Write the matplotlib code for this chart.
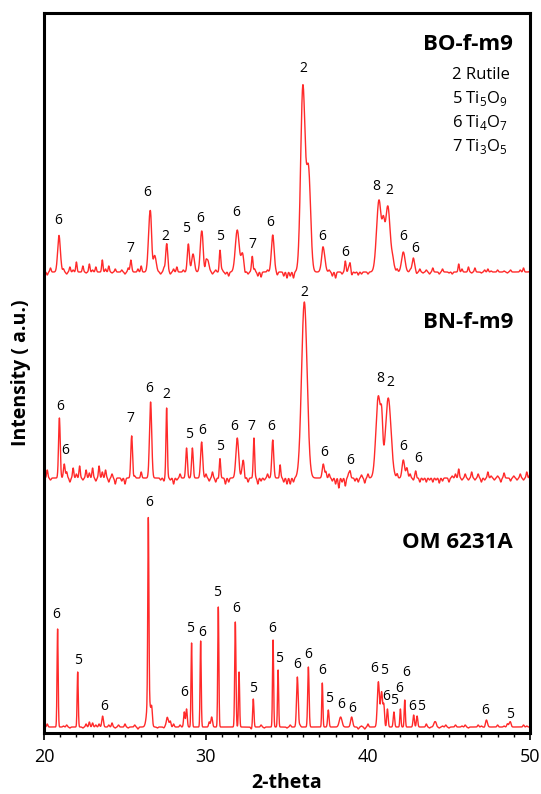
import numpy as np
import matplotlib.pyplot as plt
from matplotlib.ticker import MultipleLocator

plt.rcParams['font.family'] = ['Open Sans', 'DejaVu Sans']
plt.rcParams['mathtext.fontset'] = 'custom'
plt.rcParams['mathtext.rm'] = 'Open Sans'

# peak lists: position (2-theta), height (a.u.), width (fwhm)
bo_pos = [20.93, 25.37, 26.54, 26.85, 27.57, 28.91, 29.2, 29.73, 30.1, 30.86, 31.93, 32.25,
          32.86, 34.12, 35.98, 36.33, 37.24, 38.6, 38.89, 40.68, 40.95, 41.22, 41.55, 42.18, 42.8]
bo_h = [37, 14, 58, 15, 26, 28, 18, 40, 12, 23, 42, 18,
        15, 37, 185, 100, 23, 8, 9, 72, 30, 66, 10, 20, 12]
bo_w = [0.2, 0.12, 0.22, 0.2, 0.15, 0.15, 0.2, 0.2, 0.2, 0.12, 0.28, 0.2,
        0.1, 0.2, 0.32, 0.3, 0.24, 0.1, 0.1, 0.35, 0.18, 0.35, 0.2, 0.25, 0.2]

bn_pos = [20.95, 21.25, 25.41, 26.58, 27.57, 28.8, 29.16, 29.73, 30.86, 31.93, 32.3, 32.96,
          34.12, 34.57, 36.07, 37.24, 38.89, 40.64, 40.85, 41.25, 42.18, 42.4, 42.96]
bn_h = [60, 14, 46, 76, 70, 30, 30, 36, 20, 40, 18, 40,
        38, 10, 176, 14, 7, 82, 35, 80, 18, 8, 9]
bn_w = [0.12, 0.12, 0.12, 0.16, 0.1, 0.12, 0.12, 0.15, 0.1, 0.2, 0.18, 0.1,
        0.14, 0.08, 0.4, 0.15, 0.1, 0.35, 0.15, 0.4, 0.18, 0.15, 0.12]

om_pos = [20.84, 22.08, 23.62, 26.44, 26.46, 26.65, 27.63, 28.66, 28.8, 29.11, 29.67, 30.35,
          30.76, 31.81, 32.04, 32.92, 34.14, 34.45, 35.64, 36.32, 37.18, 37.55, 38.31, 38.99,
          40.64, 40.84, 40.98, 41.2, 41.6, 42.0, 42.27, 42.82, 43.03, 44.12, 47.31, 48.75]
om_h = [98, 55, 10, 180, 30, 15, 7, 15, 18, 84, 86, 10,
        120, 105, 55, 28, 87, 57, 50, 60, 44, 17, 10, 10,
        45, 35, 20, 18, 15, 18, 27, 12, 11, 5, 7, 4]
om_w = [0.08, 0.08, 0.12, 0.08, 0.25, 0.1, 0.2, 0.1, 0.1, 0.08, 0.08, 0.12,
        0.08, 0.09, 0.08, 0.09, 0.08, 0.08, 0.12, 0.1, 0.08, 0.1, 0.2, 0.15,
        0.15, 0.15, 0.1, 0.1, 0.1, 0.08, 0.08, 0.1, 0.1, 0.15, 0.15, 0.15]

# background wiggles every 0.2 deg from 20 to 50
noise_x = np.round(np.arange(20, 50.01, 0.2), 2)
bo_noise = [2, -3, 4, 0, 0, -2, 3, -2, 5, 2,
            10, 0, 6, -1, 8, 2, 5, 0, 12, 3,
            6, -1, 3, 0, 2, -2, 4, -3, 0, 3,
            6, 0, 0, 8, 2, 0, -2, 4, 3, -2,
            3, 5, 0, 2, 0, 0, 0, 0, 0, 4,
            6, 0, -2, 2, -4, 2, -2, -4, 0, 0,
            0, 0, -3, -2, 2, 3, -4, -5, 0, 2,
            0, 0, -3, 0, -4, -6, -4, -6, 0, 0,
            0, 0, 0, 0, 0, 0, 3, 0, 2, -4,
            -6, 0, -2, 3, 4, -3, -1, -3, -2, 0,
            -2, 0, 0, 0, 0, 0, 0, 0, -2, 3,
            0, 0, 0, 2, 2, -2, 3, -1, 2, -2,
            4, 0, -2, 3, 0, -1, -2, 0, 8, 3,
            0, 5, -1, 4, 0, -1, 2, 3, 1, 0,
            2, 0, 1, -1, 2, 0, 0, 2, 4, 0,
            1]
bn_noise = [4, 8, -2, 0, 0, 0, 0, 6, -4, 10,
            4, 12, -2, 8, 5, 10, -3, 12, 6, 8,
            -4, 4, -6, 0, -3, -6, 0, -4, 2, 0,
            6, 0, 0, 0, 0, 0, -2, -3, 0, -2,
            -6, -2, 4, 0, 0, 0, 0, 0, 0, 0,
            4, -3, 6, -4, -2, 0, -6, -4, 0, 0,
            0, 0, -6, -4, 0, 0, -6, -3, -2, 4,
            0, 0, 0, 4, -4, -6, -6, -4, 0, 0,
            0, 0, 0, 0, 0, 0, 0, 6, 4, -3,
            -6, -10, -4, -8, 4, 0, -3, -4, 3, -5,
            4, 0, 0, 0, 0, 0, 0, 0, 0, 4,
            0, 0, 2, 4, -2, -4, -4, -2, -4, -2,
            -4, -2, -5, -3, 0, -4, 2, 4, 9, -2,
            4, -2, 6, -2, 4, -4, -2, 6, 2, -2,
            2, -4, 5, 0, -3, 2, -2, 4, -2, 6,
            4]
om_noise = [2, 3, 0, 0, 0, 0, 1, 2, -1, 0,
            0, 0, -1, 3, 5, 4, 2, 3, 1, 0,
            2, 4, -1, 2, 0, 3, -1, 0, 2, -2,
            0, 0, 0, 0, 0, -1, 0, -1, 3, 5,
            3, 0, 2, 0, 0, 0, 0, 0, 0, 0,
            0, 5, 0, 0, 0, 0, 0, 0, 0, 0,
            0, 0, 0, 0, -2, 0, 0, 2, -1, 0,
            0, 0, 0, 0, 0, -1, 2, 0, 0, 2,
            0, 0, 0, 0, 0, 0, 0, 0, 0, 0,
            0, 0, 0, 0, 0, 0, 0, -2, 1, -2,
            3, 0, 0, 0, 0, 0, 0, 0, 0, 0,
            0, 0, 0, 0, 0, 0, 0, 0, 3, -1,
            0, 2, -1, 1, 2, -1, 0, 2, 0, 1,
            2, -1, 0, 0, 2, 1, -1, 0, 0, 0,
            2, 0, 1, 3, 2, 0, 0, 0, 2, 1,
            0]

# phase labels: text, 2-theta, height above the trace baseline
bo_lab = ['6', '7', '6', '2', '5', '6', '5', '6', '7', '6', '2', '6', '6', '8', '2', '6', '6']
bo_lab_x = [20.9, 25.35, 26.4, 27.5, 28.75, 29.65, 30.86, 31.87, 32.86, 33.97, 36.0, 37.2,
            38.6, 40.53, 41.3, 42.16, 42.92]
bo_lab_y = [52, 24, 79, 36, 44, 53, 36, 59, 28, 50, 203, 36, 19, 86, 81, 36, 24]

bn_lab = ['6', '6', '7', '6', '2', '5', '6', '5', '6', '7', '6', '2', '6', '6', '8', '2', '6', '6']
bn_lab_x = [21.0, 21.3, 25.35, 26.5, 27.57, 28.95, 29.75, 30.86, 31.77, 32.78, 34.03, 36.07,
            37.3, 38.93, 40.74, 41.36, 42.18, 43.1]
bn_lab_y = [72, 27, 59, 90, 83, 43, 48, 31, 52, 52, 52, 186, 26, 18, 100, 96, 31, 20]

om_lab = ['6', '5', '6', '6', '6', '5', '6', '5', '6', '5', '6', '5', '6', '6', '6', '5',
          '6', '6', '6', '5', '6', '5', '6', '6', '6', '5', '6', '5']
om_lab_x = [20.78, 22.08, 23.72, 26.5, 28.64, 29.0, 29.75, 30.7, 31.87, 32.92, 34.11, 34.5,
            35.62, 36.28, 37.18, 37.61, 38.33, 39.03, 40.39, 40.99, 41.15, 41.63, 41.94, 42.33,
            42.7, 43.25, 47.26, 48.76]
om_lab_y = [112, 66, 21, 225, 34, 98, 95, 134, 119, 39, 99, 69, 63, 73, 56, 28, 23, 19,
            58, 56, 30, 26, 39, 54, 21, 21, 16, 13]

names = ['BO-f-m9', 'BN-f-m9', 'OM 6231A']
legend_lines = ['2 Rutile', r'5 Ti$_5$O$_9$', r'6 Ti$_4$O$_7$', r'7 Ti$_3$O$_5$']

x = np.linspace(20, 50, 3001)


def pattern(pos, h, w, noise):
    y = np.zeros_like(x)
    for p, a, f in zip(pos, h, w):
        s = f / 2.355
        y += a * np.exp(-(x - p) ** 2 / (2 * s * s))
    for p, a in zip(noise_x, noise):
        y += a * np.exp(-(x - p) ** 2 / (2 * 0.04 ** 2))
    return y


fig = plt.figure(figsize=(5.41, 7.94), dpi=100)
ax = fig.add_axes([44 / 541, 1 - 733 / 794, 486 / 541, 720 / 794])

offsets = [461, 255, 6]
traces = [(bo_pos, bo_h, bo_w, bo_noise, bo_lab, bo_lab_x, bo_lab_y),
          (bn_pos, bn_h, bn_w, bn_noise, bn_lab, bn_lab_x, bn_lab_y),
          (om_pos, om_h, om_w, om_noise, om_lab, om_lab_x, om_lab_y)]
name_y = [688, 411, 190]

for off, tr, nm, ny in zip(offsets, traces, names, name_y):
    pos, h, w, noise, lab, lx, ly = tr
    ax.plot(x, pattern(pos, h, w, noise) + off, color='#ff2a2a', lw=1.0)
    for t, xx, yy in zip(lab, lx, ly):
        ax.text(xx, off + yy, t, fontsize=10, ha='center', va='center')
    ax.text(48.95, ny, nm, fontsize=16, fontweight='bold', ha='right', va='center')

for i, s in enumerate(legend_lines):
    ax.text(45.2, 658 - 24 * i, s, fontsize=12, ha='left', va='center')

ax.set_xlim(20, 50)
ax.set_ylim(0, 720)
ax.set_yticks([])
ax.xaxis.set_major_locator(MultipleLocator(10))
ax.xaxis.set_minor_locator(MultipleLocator(1))
ax.tick_params(axis='x', which='major', direction='out', length=5, width=1.2, labelsize=13, pad=6)
ax.tick_params(axis='x', which='minor', direction='out', length=3, width=1)
for sp in ax.spines.values():
    sp.set_linewidth(2.2)
ax.set_xlabel('2-theta', fontsize=14, fontweight='bold', labelpad=5)
ax.set_ylabel('Intensity ( a.u.)', fontsize=14, fontweight='bold', labelpad=9)

fig.savefig('out.png', dpi=100)
